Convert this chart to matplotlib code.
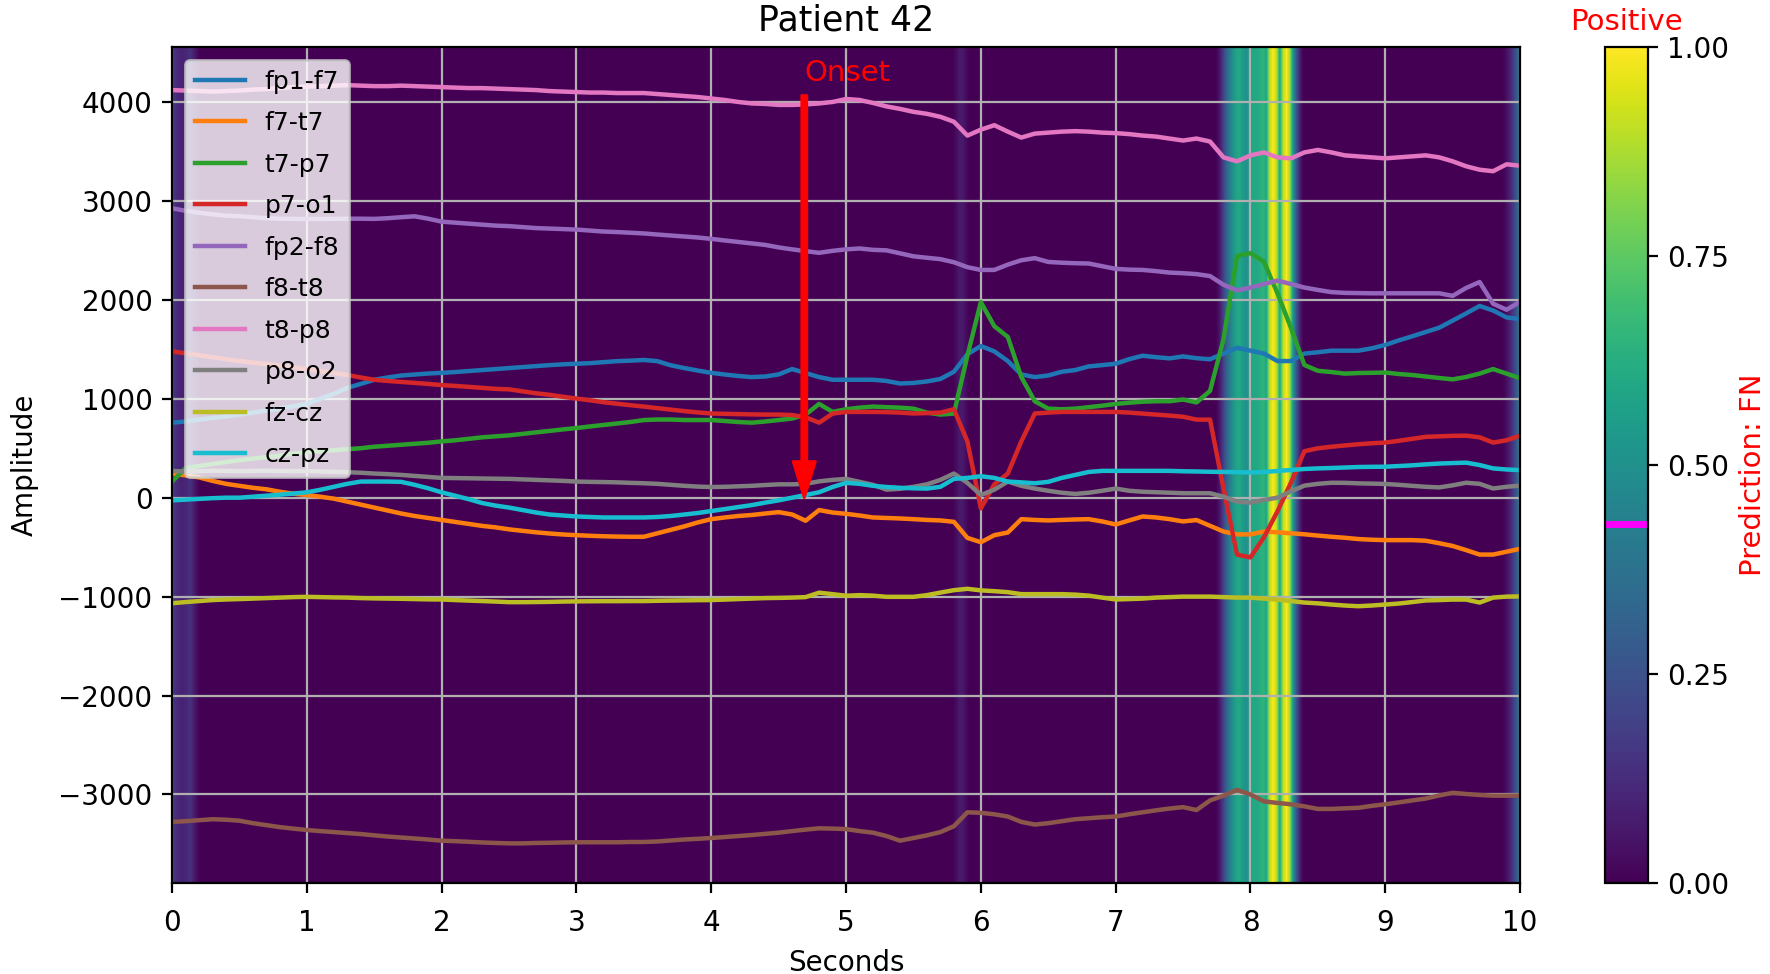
import numpy as np
import matplotlib
matplotlib.use("Agg")
import matplotlib.pyplot as plt

# ---------------- data ----------------
t = np.round(np.arange(0, 10.0001, 0.1), 2)

channels = ["fp1-f7", "f7-t7", "t7-p7", "p7-o1", "fp2-f8",
            "f8-t8", "t8-p8", "p8-o2", "fz-cz", "cz-pz"]

fp1_f7 = [758, 770, 790, 805, 820, 840, 860, 880, 900, 925, 948,
          1000, 1050, 1110, 1150, 1192, 1215, 1235, 1245, 1255, 1262,
          1270, 1280, 1290, 1300, 1310, 1320, 1330, 1340, 1348, 1354,
          1360, 1370, 1380, 1385, 1392, 1380, 1338, 1310, 1285, 1262,
          1245, 1230, 1219, 1225, 1246, 1300, 1260, 1219, 1192, 1192,
          1192, 1192, 1180, 1154, 1160, 1175, 1200, 1273, 1450, 1533,
          1479, 1381, 1246, 1219, 1235, 1273, 1290, 1327, 1340, 1354,
          1400, 1435, 1420, 1408, 1428, 1410, 1399, 1457, 1515, 1486,
          1457, 1381, 1381, 1457, 1470, 1486, 1486, 1486, 1510, 1544,
          1590, 1631, 1675, 1718, 1790, 1863, 1938, 1892, 1822, 1805]

f7_t7 = [244, 225, 205, 170, 140, 120, 100, 85, 60, 40, 27,
         10, -10, -40, -70, -100, -130, -160, -185, -205, -225,
         -245, -265, -285, -300, -320, -335, -350, -362, -372, -379,
         -385, -390, -393, -395, -395, -360, -325, -290, -250, -217,
         -200, -185, -175, -160, -146, -170, -233, -125, -150, -163,
         -180, -200, -205, -210, -217, -225, -230, -244, -406, -450,
         -379, -352, -217, -225, -230, -225, -220, -217, -240, -271,
         -230, -190, -200, -217, -240, -226, -284, -342, -371, -371,
         -342, -350, -360, -370, -383, -395, -405, -418, -425, -429,
         -429, -429, -435, -460, -488, -530, -575, -575, -546, -517]

t7_p7 = [163, 298, 320, 340, 360, 379, 395, 410, 425, 445, 460,
         470, 480, 490, 500, 515, 525, 535, 545, 555, 569,
         580, 595, 610, 620, 630, 645, 660, 675, 690, 704,
         720, 735, 750, 765, 785, 790, 790, 785, 785, 785,
         775, 765, 758, 770, 785, 800, 840, 948, 867, 894,
         910, 921, 915, 910, 900, 860, 840, 850, 1435, 1977,
         1733, 1625, 1219, 975, 900, 894, 900, 915, 930, 948,
         960, 970, 975, 975, 992, 963, 1079, 1602, 2443, 2472,
         2385, 2066, 1718, 1341, 1283, 1270, 1254, 1260, 1262, 1265,
         1250, 1240, 1225, 1210, 1196, 1220, 1254, 1300, 1254, 1207]

p7_o1 = [1479, 1460, 1440, 1420, 1400, 1381, 1365, 1350, 1335, 1318, 1300,
         1280, 1260, 1240, 1215, 1192, 1180, 1170, 1160, 1150, 1138,
         1130, 1120, 1110, 1100, 1095, 1075, 1055, 1040, 1020, 1002,
         985, 965, 950, 935, 921, 905, 890, 875, 862, 851,
         848, 845, 842, 840, 840, 835, 813, 758, 850, 867,
         867, 867, 865, 860, 851, 855, 860, 894, 569, -108,
         135, 244, 569, 851, 860, 867, 867, 867, 867, 867,
         860, 850, 840, 830, 818, 789, 789, 93, -575, -604,
         -400, -139, 151, 470, 499, 515, 528, 540, 550, 557,
         575, 595, 615, 620, 625, 627, 610, 557, 580, 627]

fp2_f8 = [2925, 2900, 2880, 2865, 2850, 2845, 2835, 2825, 2820, 2818, 2817,
          2817, 2818, 2820, 2820, 2818, 2825, 2835, 2844, 2820, 2790,
          2780, 2770, 2760, 2750, 2745, 2735, 2725, 2720, 2715, 2710,
          2700, 2690, 2685, 2678, 2671, 2660, 2650, 2640, 2630, 2616,
          2600, 2585, 2570, 2555, 2530, 2510, 2492, 2475, 2495, 2510,
          2519, 2505, 2500, 2470, 2440, 2425, 2411, 2380, 2330, 2302,
          2302, 2356, 2400, 2421, 2383, 2375, 2370, 2367, 2340, 2313,
          2305, 2302, 2290, 2275, 2269, 2260, 2240, 2153, 2095, 2124,
          2160, 2194, 2160, 2124, 2100, 2078, 2070, 2068, 2066, 2066,
          2066, 2066, 2066, 2066, 2040, 2120, 2180, 1960, 1900, 1979]

f8_t8 = [-3277, -3270, -3260, -3250, -3255, -3265, -3290, -3310, -3330, -3345, -3359,
         -3370, -3380, -3390, -3400, -3413, -3425, -3435, -3445, -3455, -3467,
         -3472, -3478, -3485, -3490, -3494, -3494, -3490, -3488, -3485, -3483,
         -3483, -3483, -3483, -3480, -3480, -3475, -3465, -3455, -3448, -3440,
         -3430, -3420, -3410, -3398, -3386, -3370, -3355, -3342, -3345, -3350,
         -3370, -3386, -3420, -3467, -3440, -3413, -3380, -3321, -3180, -3185,
         -3200, -3223, -3277, -3304, -3290, -3270, -3250, -3240, -3230, -3223,
         -3200, -3180, -3160, -3142, -3128, -3157, -3060, -3012, -2954, -3000,
         -3070, -3085, -3099, -3120, -3146, -3146, -3140, -3135, -3115, -3099,
         -3080, -3060, -3041, -3010, -2983, -2995, -3005, -3012, -3012, -3012]

t8_p8 = [4120, 4115, 4110, 4105, 4110, 4115, 4125, 4130, 4140, 4150, 4155,
         4160, 4165, 4170, 4165, 4160, 4160, 4165, 4160, 4155, 4150,
         4145, 4140, 4140, 4135, 4130, 4125, 4120, 4110, 4105, 4100,
         4095, 4095, 4090, 4090, 4090, 4080, 4070, 4060, 4050, 4035,
         4020, 4000, 3985, 3980, 3970, 3970, 3975, 3985, 4000, 4030,
         4020, 3990, 3955, 3930, 3900, 3880, 3850, 3800, 3660, 3720,
         3765, 3700, 3640, 3680, 3690, 3700, 3705, 3700, 3690, 3685,
         3675, 3660, 3650, 3630, 3610, 3630, 3600, 3440, 3400, 3460,
         3490, 3440, 3430, 3490, 3515, 3490, 3460, 3450, 3440, 3430,
         3440, 3450, 3460, 3440, 3400, 3350, 3315, 3300, 3370, 3355]

p8_o2 = [270, 265, 268, 272, 270, 268, 270, 272, 270, 268, 270,
         265, 262, 258, 252, 244, 238, 230, 220, 210, 200,
         198, 196, 194, 192, 190, 185, 180, 175, 170, 163,
         160, 158, 155, 150, 146, 140, 130, 120, 112, 108,
         110, 115, 120, 128, 135, 135, 140, 165, 180, 190,
         160, 130, 81, 90, 110, 135, 180, 244, 150, 27,
         81, 163, 120, 92, 70, 50, 38, 50, 70, 92,
         70, 60, 55, 50, 45, 45, 45, 10, -40, -50,
         -23, 0, 64, 122, 140, 151, 150, 145, 142, 139,
         130, 120, 110, 104, 125, 151, 140, 93, 110, 122]

fz_cz = [-1067, -1055, -1045, -1035, -1029, -1025, -1020, -1015, -1010, -1005, -1002,
         -1005, -1008, -1010, -1015, -1018, -1020, -1022, -1025, -1028, -1029,
         -1035, -1040, -1045, -1050, -1056, -1056, -1055, -1053, -1050, -1048,
         -1047, -1046, -1046, -1045, -1045, -1042, -1040, -1038, -1036, -1035,
         -1030, -1025, -1020, -1015, -1013, -1010, -1005, -960, -975, -991,
         -985, -990, -1002, -1002, -1002, -985, -959, -935, -921, -937,
         -945, -955, -975, -975, -975, -975, -980, -990, -1010, -1029,
         -1025, -1020, -1010, -1005, -1000, -1000, -1000, -1005, -1010, -1010,
         -1020, -1030, -1045, -1060, -1068, -1080, -1090, -1097, -1090, -1080,
         -1070, -1055, -1039, -1035, -1030, -1030, -1060, -1010, -1000, -998]

cz_pz = [-27, -20, -12, -5, 0, 0, 10, 20, 30, 42, 54,
         80, 110, 140, 163, 163, 163, 160, 130, 95, 54,
         20, -15, -54, -80, -100, -125, -150, -170, -180, -190,
         -195, -200, -200, -200, -200, -195, -185, -170, -155, -135,
         -115, -95, -75, -50, -27, 0, 27, 55, 108, 150,
         140, 120, 108, 100, 95, 92, 110, 190, 200, 217,
         200, 163, 155, 146, 160, 200, 230, 260, 271, 271,
         271, 271, 271, 271, 267, 265, 262, 260, 258, 255,
         260, 270, 280, 290, 296, 300, 305, 310, 312, 313,
         320, 327, 337, 345, 350, 354, 330, 296, 285, 279]

# prediction per 0.025 s window (400 windows over 10 s)
pred = ([0.15, 0.12, 0.10, 0.10, 0.12, 0.14, 0.08, 0.03]
        + [0.0] * 224
        + [0.03, 0.07, 0.07, 0.03]
        + [0.0] * 74
        + [0.05, 0.15, 0.30, 0.40, 0.50, 0.58, 0.60, 0.55, 0.50, 0.55,
           0.60, 0.60, 0.62, 0.65, 0.60, 0.90, 1.00, 0.90, 0.60, 0.90,
           1.00, 0.85, 0.50, 0.25, 0.08]
        + [0.0] * 60
        + [0.03, 0.08, 0.15, 0.25, 0.40])

patient_prediction = 0.43
onset_time = 4.69
onset_arrow_top = 4065
onset_label_y = 4290

series = [fp1_f7, f7_t7, t7_p7, p7_o1, fp2_f8, f8_t8, t8_p8, p8_o2, fz_cz, cz_pz]
colors = ["#1f77b4", "#ff7f0e", "#2ca02c", "#d62728", "#9467bd",
          "#8c564b", "#e377c2", "#7f7f7f", "#bcbd22", "#17becf"]

# ---------------- figure ----------------
fig = plt.figure(figsize=(8.85, 4.87), dpi=200)
ax = fig.add_axes([0.0972, 0.0934, 0.7616, 0.8583])
cax = fig.add_axes([0.9068, 0.0934, 0.0243, 0.8583])

ymin, ymax = -3895, 4555
im = ax.imshow(np.array(pred)[np.newaxis, :], aspect="auto", cmap="viridis",
               vmin=0, vmax=1, extent=[0, 10, ymin, ymax],
               interpolation="bilinear", origin="lower", zorder=0)

for name, vals, c in zip(channels, series, colors):
    ax.plot(t, vals, color=c, lw=1.6, label=name)

ax.set_xlim(0, 10)
ax.set_ylim(ymin, ymax)
ax.set_xticks(np.arange(0, 11, 1))
ax.set_yticks([-3000, -2000, -1000, 0, 1000, 2000, 3000, 4000])
ax.tick_params(axis="x", pad=6)
ax.grid(True, color="#b0b0b0", lw=0.8)
ax.set_title("Patient 42", fontsize=12.5)
ax.set_xlabel("Seconds")
ax.set_ylabel("Amplitude", labelpad=7)

ax.annotate("", xy=(onset_time, 0), xytext=(onset_time, onset_arrow_top),
            arrowprops=dict(color="red", width=1.8, headwidth=8,
                            headlength=13, shrink=0))
ax.text(onset_time, onset_label_y, "Onset", color="red", fontsize=10.5,
        ha="left", va="center")

leg = ax.legend(loc="upper left", fontsize=9, framealpha=0.8,
                labelspacing=0.7)

cb = fig.colorbar(im, cax=cax, ticks=[0, 0.25, 0.5, 0.75, 1.0])
cb.ax.yaxis.set_major_formatter(matplotlib.ticker.FormatStrFormatter("%.2f"))
cb.ax.axhline(patient_prediction, color="magenta", lw=2.5)
cb.ax.set_title("Positive", color="red", fontsize=10.5)
fig.text(0.9905, 0.513, "Prediction: FN", color="red", fontsize=10.5,
         rotation=90, ha="center", va="center")

fig.savefig("out.png", dpi=200)
